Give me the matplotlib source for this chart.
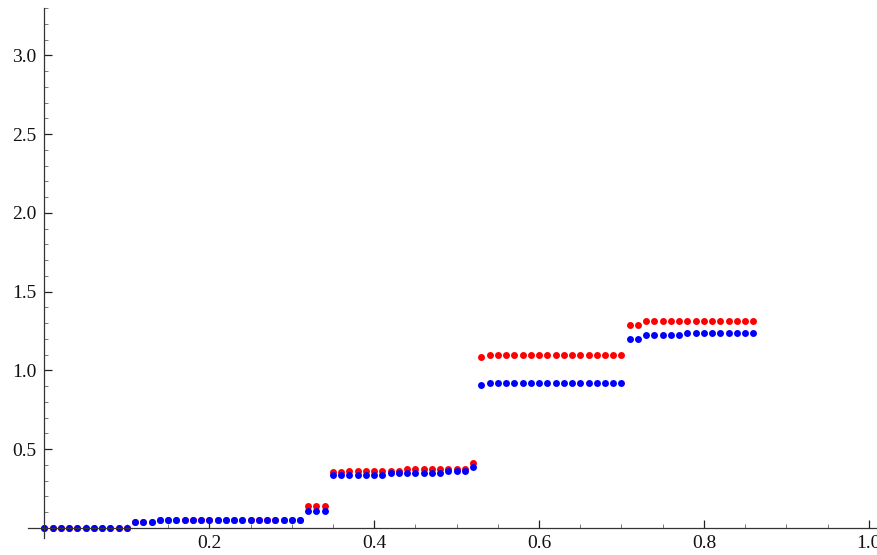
import matplotlib
matplotlib.use('Agg')
import matplotlib.pyplot as plt
from matplotlib.ticker import FixedLocator, NullFormatter

# sample positions (0.00 .. 0.86)
x_vals = [
    0.00, 0.01, 0.02, 0.03, 0.04, 0.05, 0.06, 0.07, 0.08, 0.09,
    0.10, 0.11, 0.12, 0.13, 0.14, 0.15, 0.16, 0.17, 0.18, 0.19,
    0.20, 0.21, 0.22, 0.23, 0.24, 0.25, 0.26, 0.27, 0.28, 0.29,
    0.30, 0.31, 0.32, 0.33, 0.34, 0.35, 0.36, 0.37, 0.38, 0.39,
    0.40, 0.41, 0.42, 0.43, 0.44, 0.45, 0.46, 0.47, 0.48, 0.49,
    0.50, 0.51, 0.52, 0.53, 0.54, 0.55, 0.56, 0.57, 0.58, 0.59,
    0.60, 0.61, 0.62, 0.63, 0.64, 0.65, 0.66, 0.67, 0.68, 0.69,
    0.70, 0.71, 0.72, 0.73, 0.74, 0.75, 0.76, 0.77, 0.78, 0.79,
    0.80, 0.81, 0.82, 0.83, 0.84, 0.85, 0.86,
]

# upper series (red)
red_vals = (
    [0.0] * 11 + [0.034] * 3 + [0.047] * 18
    + [0.138] * 3
    + [0.351] * 2 + [0.361] * 7 + [0.375] * 8 + [0.412]
    + [1.084] + [1.097] * 17
    + [1.287] * 2 + [1.313] * 14
)

# lower series (blue)
blue_vals = (
    [0.0] * 11 + [0.034] * 3 + [0.047] * 18
    + [0.108] * 3
    + [0.336] * 7 + [0.349] * 7 + [0.361] * 3 + [0.387]
    + [0.907] + [0.919] * 17
    + [1.198] * 2 + [1.224] * 5 + [1.237] * 9
)

x_major = [0.2, 0.4, 0.6, 0.8, 1.0]
x_minor = [0.05, 0.1, 0.15, 0.25, 0.3, 0.35, 0.45, 0.5, 0.55,
           0.65, 0.7, 0.75, 0.85, 0.9, 0.95]
y_major = [0.5, 1.0, 1.5, 2.0, 2.5, 3.0]
y_minor = [0.1, 0.2, 0.3, 0.4, 0.6, 0.7, 0.8, 0.9, 1.1, 1.2, 1.3, 1.4,
           1.6, 1.7, 1.8, 1.9, 2.1, 2.2, 2.3, 2.4, 2.6, 2.7, 2.8, 2.9,
           3.1, 3.2, 3.3]

plt.rcParams['font.family'] = ['Liberation Serif', 'DejaVu Serif']

fig = plt.figure(figsize=(8.77, 5.55), dpi=100)
ax = fig.add_axes([28 / 877, 17 / 555, 849 / 877, 530 / 555])

ax.plot(x_vals, red_vals, 'o', color=(1, 0, 0), markersize=5, markeredgewidth=0)
ax.plot(x_vals, blue_vals, 'o', color=(0, 0, 1), markersize=5, markeredgewidth=0)

ax.set_xlim(-0.02, 1.01)
ax.set_ylim(-0.065, 3.3)

for side in ('top', 'right'):
    ax.spines[side].set_visible(False)
ax.spines['left'].set_position(('data', 0))
ax.spines['bottom'].set_position(('data', 0))
for side in ('left', 'bottom'):
    ax.spines[side].set_color('#333333')
    ax.spines[side].set_linewidth(0.9)

ax.xaxis.set_major_locator(FixedLocator(x_major))
ax.xaxis.set_minor_locator(FixedLocator(x_minor))
ax.yaxis.set_major_locator(FixedLocator(y_major))
ax.yaxis.set_minor_locator(FixedLocator(y_minor))
ax.set_xticklabels(['0.2', '0.4', '0.6', '0.8', '1.0'])
ax.set_yticklabels(['0.5', '1.0', '1.5', '2.0', '2.5', '3.0'])
ax.xaxis.set_minor_formatter(NullFormatter())
ax.yaxis.set_minor_formatter(NullFormatter())

ax.tick_params(which='both', direction='in', labelsize=14, labelcolor='#111111')
ax.tick_params(which='major', length=5.5, width=0.9, color='#222222')
ax.tick_params(which='minor', length=3.2, width=0.7, color='#777777')
ax.tick_params(axis='x', which='major', pad=5)
ax.tick_params(axis='y', which='major', pad=6)

fig.savefig('out.png', dpi=100)
